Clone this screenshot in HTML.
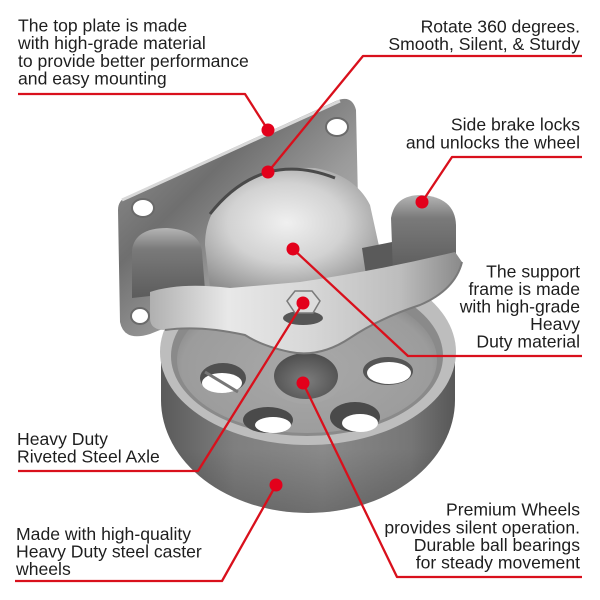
<!DOCTYPE html>
<html><head><meta charset="utf-8"><style>
html,body{margin:0;padding:0;background:#fff;}
svg{display:block;}
text{font-family:"Liberation Sans",Arial,sans-serif;font-size:17.6px;fill:#1e1e1e;}
</style></head><body>
<svg width="600" height="600" viewBox="0 0 600 600" xmlns="http://www.w3.org/2000/svg">
<defs>
<linearGradient id="tread" x1="0" y1="0" x2="1" y2="0">
<stop offset="0" stop-color="#5a5a5a"/><stop offset="0.25" stop-color="#7f7f7f"/><stop offset="0.55" stop-color="#8a8a8a"/><stop offset="0.85" stop-color="#767676"/><stop offset="1" stop-color="#575757"/>
</linearGradient>
<linearGradient id="treadv" x1="0" y1="0" x2="0" y2="1">
<stop offset="0.6" stop-color="#000" stop-opacity="0"/><stop offset="1" stop-color="#000" stop-opacity="0.2"/>
</linearGradient>
<radialGradient id="web" cx="0.5" cy="0.55" r="0.6">
<stop offset="0" stop-color="#a9a9a9"/><stop offset="0.8" stop-color="#9c9c9c"/><stop offset="1" stop-color="#7e7e7e"/>
</radialGradient>
<linearGradient id="plate" x1="0" y1="0" x2="1" y2="1">
<stop offset="0" stop-color="#9c9c9c"/><stop offset="0.35" stop-color="#6f6f6f"/><stop offset="0.6" stop-color="#9a9a9a"/><stop offset="1" stop-color="#c8c8c8"/>
</linearGradient>
<radialGradient id="dome" cx="0.45" cy="0.45" r="0.65">
<stop offset="0" stop-color="#f0f0f0"/><stop offset="0.5" stop-color="#d2d2d2"/><stop offset="1" stop-color="#8c8c8c"/>
</radialGradient>
<linearGradient id="ear" x1="0" y1="0" x2="0" y2="1">
<stop offset="0" stop-color="#b5b5b5"/><stop offset="0.3" stop-color="#7a7a7a"/><stop offset="1" stop-color="#5c5c5c"/>
</linearGradient>
<linearGradient id="fork" x1="0" y1="0" x2="1" y2="0">
<stop offset="0" stop-color="#b0b0b0"/><stop offset="0.25" stop-color="#e8e8e8"/><stop offset="0.5" stop-color="#d8d8d8"/><stop offset="0.8" stop-color="#bdbdbd"/><stop offset="1" stop-color="#8a8a8a"/>
</linearGradient>
<radialGradient id="hub" cx="0.5" cy="0.6" r="0.6">
<stop offset="0" stop-color="#7c7c7c"/><stop offset="1" stop-color="#4e4e4e"/>
</radialGradient>
</defs>

<!-- wheel tread -->
<path d="M161,352 L161,400 A147,113 0 0 0 455,400 L455,352 Z" fill="url(#tread)"/>
<path d="M161,352 L161,400 A147,113 0 0 0 455,400 L455,352 Z" fill="url(#treadv)"/>
<!-- rim top face -->
<ellipse cx="308" cy="352" rx="148" ry="93" fill="#bdbdbd"/>
<ellipse cx="307" cy="356" rx="136" ry="80" fill="#8a8a8a"/>
<ellipse cx="307" cy="360" rx="130" ry="73" fill="url(#web)"/>
<!-- holes -->
<ellipse cx="223" cy="378" rx="23" ry="15" fill="#505050"/>
<ellipse cx="222" cy="383" rx="20" ry="10" fill="#fff"/>
<line x1="205" y1="372" x2="238" y2="392" stroke="#777" stroke-width="3"/>
<ellipse cx="388" cy="371" rx="25" ry="14" fill="#555"/>
<ellipse cx="389" cy="373" rx="22" ry="11" fill="#fff"/>
<ellipse cx="268" cy="420" rx="25" ry="13" fill="#4a4a4a"/>
<ellipse cx="273" cy="425" rx="18" ry="8" fill="#fff"/>
<ellipse cx="355" cy="417" rx="25" ry="15" fill="#4a4a4a"/>
<ellipse cx="360" cy="423" rx="18" ry="9" fill="#fff"/>
<!-- hub -->
<ellipse cx="306" cy="376" rx="38" ry="28" fill="#a5a5a5"/>
<ellipse cx="306" cy="376" rx="32" ry="23" fill="url(#hub)"/>

<!-- top plate -->
<path d="M128,196 L336,101 Q352,94 356,110 L359,245 L330,262 L150,334 Q124,342 120,322 L118,210 Q118,200 128,196 Z" fill="url(#plate)"/>
<path d="M122,200 L340,101" stroke="#d8d8d8" stroke-width="3" fill="none"/>
<ellipse cx="337" cy="127" rx="11" ry="9" fill="#fff" stroke="#6a6a6a" stroke-width="2"/>
<ellipse cx="143" cy="208" rx="11" ry="9" fill="#fff" stroke="#6a6a6a" stroke-width="2"/>

<!-- dome -->
<path d="M205,245 Q205,205 240,186 Q275,166 315,168 Q355,175 370,205 L386,278 L300,290 L210,288 Z" fill="url(#dome)"/>
<path d="M210,214 Q235,182 268,172 Q300,164 335,178" stroke="#4a4a4a" stroke-width="3" fill="none"/>
<path d="M362,248 L392,242 L395,272 L366,275 Z" fill="#5a5a5a"/>

<!-- left ear -->
<path d="M132,250 Q135,228 167,228 Q200,230 202,252 L205,290 L132,298 Z" fill="url(#ear)"/>
<!-- right ear -->
<path d="M391,218 Q395,195 421,195 Q455,197 456,225 L456,266 L393,272 Z" fill="url(#ear)"/>

<!-- fork arm -->
<path d="M150,292 Q180,282 230,288 L300,282 Q380,270 455,252 L462,262 Q455,290 420,305 Q380,318 350,338 Q320,358 290,352 Q262,346 245,335 Q200,325 165,330 Q150,330 150,318 Z" fill="url(#fork)"/>
<path d="M165,330 Q200,325 245,335 Q262,346 290,352 Q320,358 350,338 Q380,318 420,305 Q455,290 462,262" stroke="#7a7a7a" stroke-width="2" fill="none"/>
<ellipse cx="140" cy="316" rx="9" ry="8" fill="#fff" stroke="#6a6a6a" stroke-width="2"/>

<!-- bolt -->
<ellipse cx="303" cy="318" rx="20" ry="7" fill="#555"/>
<polygon points="287,301 295,291 312,291 320,301 313,313 295,313" fill="#dcdcdc" stroke="#7a7a7a" stroke-width="1.5"/>

<!-- red connectors -->
<g stroke="#d9101c" stroke-width="2.3" fill="none" stroke-linejoin="round">
<polyline points="18,94 245,94 268,130"/>
<polyline points="268,172 363,56 582,56"/>
<polyline points="582,157 452,157 422,202"/>
<polyline points="293,249 408,356 582,356"/>
<polyline points="303,303 198,471 18,471"/>
<polyline points="303,383 397,577 582,577"/>
<polyline points="276,485 222,581 15,581"/>
</g>
<g fill="#e3001b">
<circle cx="268" cy="130" r="6.5"/>
<circle cx="268" cy="172" r="6.5"/>
<circle cx="422" cy="202" r="6.5"/>
<circle cx="293" cy="249" r="6.5"/>
<circle cx="303" cy="303" r="6.5"/>
<circle cx="303" cy="383" r="6.5"/>
<circle cx="276" cy="485" r="6.5"/>
</g>

<!-- text -->
<text x="18" y="31.5">The top plate is made</text>
<text x="18" y="49.2">with high-grade material</text>
<text x="18" y="66.8">to provide better performance</text>
<text x="18" y="84.4">and easy mounting</text>

<g text-anchor="end">
<text x="580" y="32.3">Rotate 360 degrees.</text>
<text x="580" y="50">Smooth, Silent, &amp; Sturdy</text>
<text x="580" y="130.7">Side brake locks</text>
<text x="580" y="148.3">and unlocks the wheel</text>
<text x="580" y="277.3">The support</text>
<text x="580" y="295">frame is made</text>
<text x="580" y="312.5">with high-grade</text>
<text x="580" y="330">Heavy</text>
<text x="580" y="347.5">Duty material</text>
<text x="580" y="515.7">Premium Wheels</text>
<text x="580" y="533.3">provides silent operation.</text>
<text x="580" y="550.8">Durable ball bearings</text>
<text x="580" y="568.3">for steady movement</text>
</g>

<text x="17" y="445">Heavy Duty</text>
<text x="17" y="462.7">Riveted Steel Axle</text>
<text x="16" y="540">Made with high-quality</text>
<text x="16" y="557.7">Heavy Duty steel caster</text>
<text x="16" y="575">wheels</text>
</svg>
</body></html>
